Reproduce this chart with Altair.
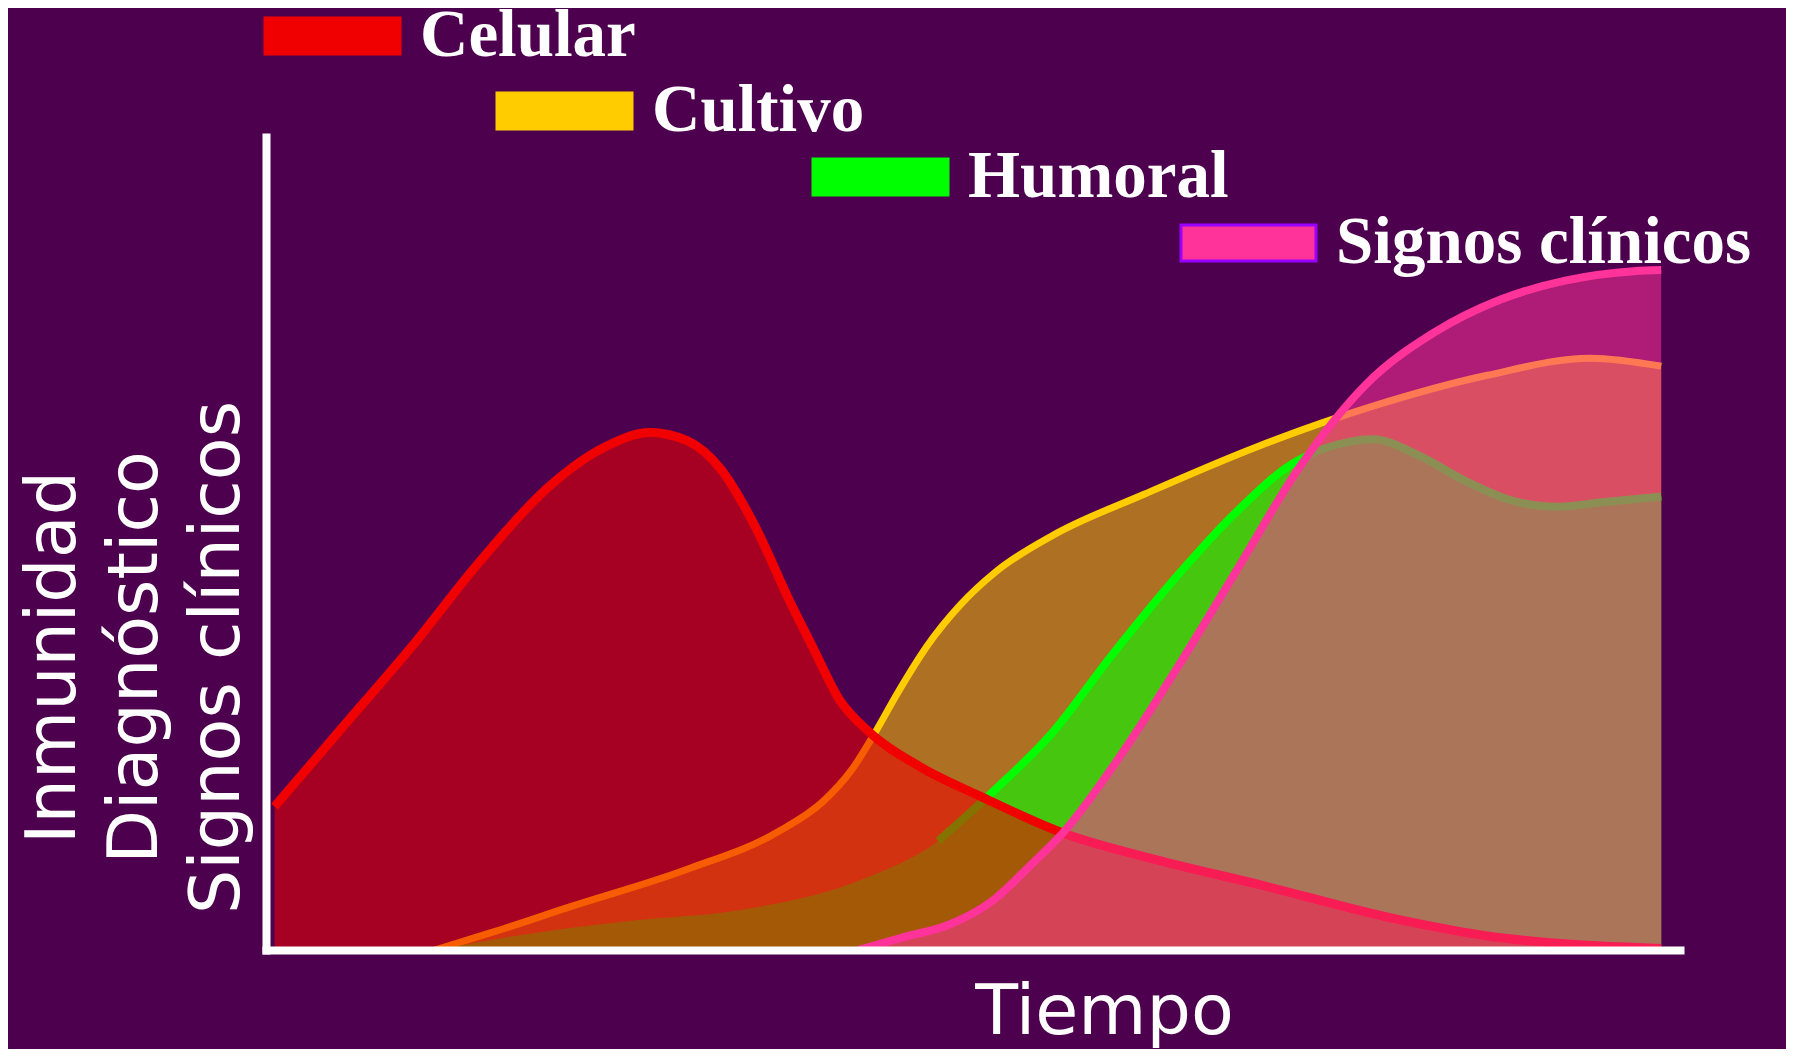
import altair as alt
import pandas as pd

# ---------------- data (x: Tiempo 0-100, y: nivel 0-100) ----------------
series = ["Celular", "Cultivo", "Humoral", "Signos clínicos"]
colors = ["#F00000", "#FFCC00", "#00FF00", "#FF3399"]

celular_x = [0.61, 5.46, 10.32, 15.17, 20.03, 24.07, 27.15, 29.74, 32.16, 34.59, 37.02, 38.64,
             40.58, 42.68, 46.24, 50.53, 56.36, 62.51, 70.19, 80.22, 86.38, 90.83, 98.67]
celular_y = [17.64, 27.49, 37.34, 47.89, 57.04, 61.97, 63.65, 62.67, 59.15, 52.11, 42.97, 37.34,
             30.72, 26.78, 22.56, 18.90, 14.40, 11.30, 8.07, 3.70, 1.73, 0.89, 0.20]

cultivo_x = [11.93, 15.98, 21.64, 29.74, 36.21, 39.44, 41.47, 43.09, 44.70, 46.73, 49.15,
             51.58, 55.63, 62.10, 70.19, 78.28, 86.37, 93.66, 98.67]
cultivo_y = [0.0, 2.16, 5.39, 9.90, 14.54, 18.34, 22.28, 26.78, 31.71, 37.34, 42.54,
             46.48, 50.99, 56.05, 61.97, 66.89, 70.69, 72.80, 71.82]

humoral_x = [11.93, 17.60, 25.69, 33.78, 41.87, 47.54, 51.58, 55.63, 59.67, 64.53, 68.57,
             72.62, 76.67, 78.28, 81.52, 84.76, 87.99, 91.23, 94.47, 98.67]
humoral_y = [0.0, 1.73, 3.56, 4.97, 8.49, 13.41, 19.75, 26.78, 35.93, 46.20, 53.80,
             59.85, 62.53, 62.81, 60.84, 57.74, 55.35, 54.51, 55.07, 55.77]

signos_x = [41.87, 45.11, 48.35, 51.42, 54.01, 56.36, 60.40, 64.53, 68.57, 73.11, 77.88,
            82.57, 87.27, 91.96, 96.73, 98.67]
signos_y = [0.0, 1.59, 3.14, 6.10, 10.32, 14.40, 23.83, 34.95, 46.48, 59.43, 69.71,
            75.90, 79.98, 82.37, 83.50, 83.64]

x_title = "Tiempo"
y_title = ["Inmunidad", "Diagnóstico", "Signos clínicos"]

# ---------------- tables ----------------
rows = []
for name, xs, ys in [("Celular", celular_x, celular_y), ("Cultivo", cultivo_x, cultivo_y),
                     ("Humoral", humoral_x, humoral_y), ("Signos clínicos", signos_x, signos_y)]:
    for xv, yv in zip(xs, ys):
        rows.append({"serie": name, "t": xv, "v": yv})
df = pd.DataFrame(rows)

# legend layout (pixels relative to plot origin)
leg_left = [-1, 231, 547, 915]
leg_top = [-119, -44, 22, 88]
leg_w, leg_h, leg_gap = 135, 36, 155
leg_stroke = ["#F00000", "#FFCC00", "#00FF00", "#9900FF"]
leg_df = pd.DataFrame({
    "serie": series,
    "fill": colors,
    "stroke": leg_stroke,
    "x1": leg_left,
    "x2": [v + leg_w for v in leg_left],
    "y1": leg_top,
    "y2": [v + leg_h for v in leg_top],
    "tx": [v + leg_gap for v in leg_left],
    "ty": [v + leg_h + 2 for v in leg_top],
})

BG = "#4C004E"
W, H = 1414, 813

x_axis = alt.Axis(title=x_title, domain=True, domainColor="white", domainWidth=8,
                  domainCap="square", ticks=False, labels=False, grid=False,
                  titleFont="DejaVu Sans", titleFontSize=70, titleFontWeight="normal",
                  titleColor="white", titleX=838, titleY=83, titleAlign="center",
                  titleBaseline="alphabetic", zindex=1)
y_axis = alt.Axis(title=y_title, domain=True, domainColor="white", domainWidth=8,
                  domainCap="square", ticks=False, labels=False, grid=False,
                  titleFont="DejaVu Sans", titleFontSize=70, titleFontWeight="normal",
                  titleColor="white", titleAngle=270, titleX=-192, titleY=520,
                  titleAlign="center", titleBaseline="alphabetic", titleLineHeight=82,
                  zindex=1)

x_enc = alt.X("t:Q", scale=alt.Scale(domain=[0, 100], nice=False, zero=False), axis=x_axis)
y_enc = alt.Y("v:Q", scale=alt.Scale(domain=[0, 100], nice=False, zero=False), axis=y_axis)

style = {
    "Cultivo": dict(alpha=0.55, width=7, line_from=0),
    "Humoral": dict(alpha=0.6, width=8, line_from=47),
    "Celular": dict(alpha=0.55, width=9, line_from=0),
    "Signos clínicos": dict(alpha=0.55, width=8, line_from=0),
}
color_of = dict(zip(series, colors))

layers = []
for name in ["Cultivo", "Humoral", "Celular", "Signos clínicos"]:
    base = alt.Chart(df).transform_filter(alt.datum.serie == name)
    layers.append(base.mark_area(color=color_of[name], opacity=style[name]["alpha"],
                                 interpolate="monotone").encode(x=x_enc, y=y_enc))
    line_base = base.transform_filter(alt.datum.t >= style[name]["line_from"])
    layers.append(line_base.mark_line(color=color_of[name], strokeWidth=style[name]["width"],
                                      interpolate="monotone").encode(x=x_enc, y=y_enc))

leg_base = alt.Chart(leg_df)
leg_rect = leg_base.mark_rect(strokeWidth=3).encode(
    x=alt.X("x1:Q", scale=None, axis=None),
    x2="x2:Q",
    y=alt.Y("y1:Q", scale=None, axis=None),
    y2="y2:Q",
    fill=alt.Fill("fill:N", scale=None, legend=None),
    stroke=alt.Stroke("stroke:N", scale=None, legend=None),
)
leg_text = leg_base.mark_text(align="left", baseline="alphabetic", font="Liberation Serif",
                              fontWeight="bold", fontSize=67, color="white").encode(
    x=alt.X("tx:Q", scale=None, axis=None),
    y=alt.Y("ty:Q", scale=None, axis=None),
    text="serie:N",
)
layers += [leg_rect, leg_text]

chart = alt.layer(*layers).properties(
    width=W, height=H,
    autosize=alt.AutoSizeParams(type="none"),
    padding={"left": 258, "top": 129, "right": 106, "bottom": 99},
    background=BG,
).configure_view(stroke=None)

chart.save("out.html", embed_options={"renderer": "svg", "actions": False})
